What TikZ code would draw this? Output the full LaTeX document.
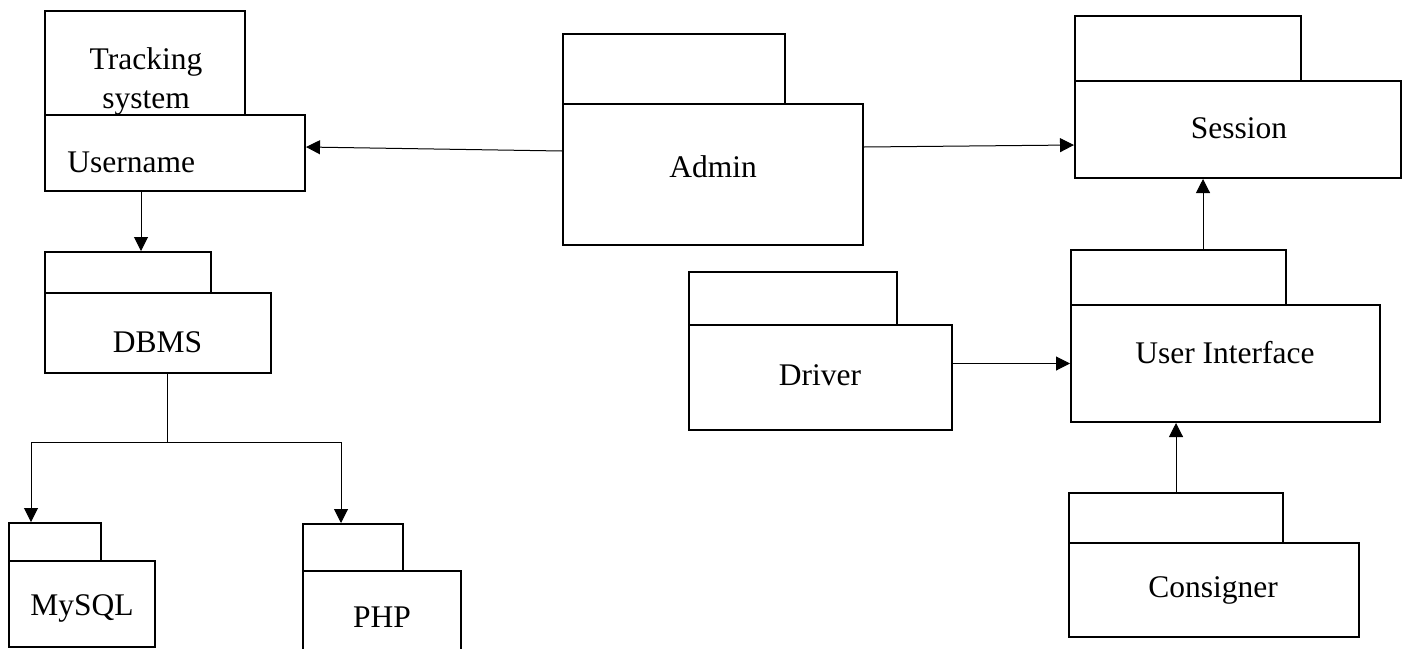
\documentclass[tikz,border=0pt]{standalone}
\usepackage{fontspec}
\setmainfont{Liberation Serif}
\usetikzlibrary{fit,calc,arrows.meta}

\tikzset{
  pkg/.style={draw, line width=1pt, inner sep=0pt},
  lbl/.style={inner sep=0pt, font=\fontsize{15.75}{19.5}\selectfont},
  arr/.style={-{Triangle[length=7pt,width=7pt]}, line width=0.5pt},
}

\begin{document}
\begin{tikzpicture}[x=0.5pt, y=-0.5pt]
  \useasboundingbox (0,0) rectangle (1406,648);
  \foreach \n/\xa/\ya/\xt/\yb/\xb/\yc in {track/45/11/245/115/305/191,
      dbms/45/252/211/293/271/373, mysql/9/523/101/561/155/647,
      php/303/524/403/571/461/662, admin/563/34/785/104/863/245,
      driver/689/272/897/325/952/430, session/1075/16/1301/81/1401/178,
      ui/1071/250/1286/305/1380/422, con/1069/493/1283/543/1359/637}{
    \node[pkg, fit={(\xa,\ya) (\xt,\yb)}] (\n-tab) {};
    \node[pkg, fit={(\xa,\yb) (\xb,\yc)}] (\n) {};
  }
  \node[lbl, align=center] (track-text) at (146,81) {Tracking\\system};
  \node[lbl, anchor=west] (user-text) at (67,162) {Username};
  \node[lbl] (dbms-text) at (157.5,342) {DBMS};
  \node[lbl] (mysql-text) at (82,608) {MySQL};
  \node[lbl] (php-text) at (382,617) {PHP};
  \node[lbl] (admin-text) at (713,167) {Admin};
  \node[lbl] (driver-text) at (820,375) {Driver};
  \node[lbl] (session-text) at (1239,128) {Session};
  \node[lbl] (ui-text) at (1225,353) {User Interface};
  \node[lbl] (con-text) at (1213,590) {Consigner};

  \draw[arr] ($(admin.west)+(0,-23.5)$) -- ($(track.east)+(0,-6)$);
  \draw[arr] ($(admin.east)+(0,-27.5)$) -- ($(session.west)+(0,15.5)$);
  \draw[arr] (ui.west -| driver.east) -- (ui.west);
  \draw[arr] ($(ui-tab.north)+(24.5,0)$) coordinate (ui-up) -- (ui-up |- session.south);
  \draw[arr] (con-tab.north) -- (con-tab.north |- ui.south);
  \draw[arr] ($(track.south)+(-34,0)$) coordinate (user-down) -- (user-down |- dbms-tab.north);
  \draw[line width=0.5pt] ($(dbms.south)+(9,0)$) -- ++(0,68) coordinate (split);
  \draw[arr] (split) -| ($(mysql-tab.north)+(-24,0)$);
  \draw[arr] (split) -| ($(php-tab.north)+(-12,0)$);
\end{tikzpicture}
\end{document}
